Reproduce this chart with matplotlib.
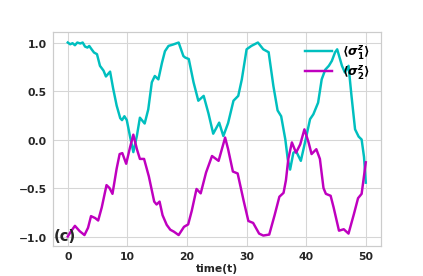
import numpy as np
import matplotlib
matplotlib.use('Agg')
import matplotlib.pyplot as plt

# values
t1 = [0.0, 0.4, 0.8, 1.2, 1.6, 2.1, 2.5, 2.9, 3.3, 3.6, 4.0, 4.4, 4.9, 5.4, 6.0, 6.4,
      7.1, 7.6, 8.2, 8.8, 9.1, 9.5, 9.9, 10.45, 11.0, 11.6, 12.1, 12.9, 13.5, 14.1,
      14.6, 15.2, 15.8, 16.3, 16.9, 17.7, 18.6, 19.4, 19.7, 20.3, 21.1, 21.9, 22.8,
      23.6, 24.4, 25.4, 26.1, 26.9, 27.8, 28.6, 29.2, 30.0, 30.8, 31.9, 32.8, 33.7,
      34.5, 35.2, 35.8, 36.5, 36.9, 37.3, 37.85, 38.3, 39.1, 39.8, 40.65, 41.2, 42.0,
      42.6, 43.2, 43.8, 44.3, 44.85, 45.2, 46.0, 46.5, 47.1, 47.6, 48.2, 48.8, 49.3,
      49.7, 50.0]
s1 = [1.0, 0.982, 0.993, 0.972, 1.0, 0.99, 1.0, 0.958, 0.948, 0.965, 0.93, 0.897, 0.88,
      0.76, 0.71, 0.65, 0.70, 0.53, 0.35, 0.22, 0.20, 0.24, 0.20, 0.03, -0.13, 0.04,
      0.225, 0.165, 0.31, 0.59, 0.655, 0.62, 0.79, 0.91, 0.965, 0.98, 1.0, 0.86, 0.845,
      0.83, 0.59, 0.40, 0.45, 0.27, 0.06, 0.174, 0.036, 0.17, 0.40, 0.45, 0.62, 0.93,
      0.965, 1.0, 0.93, 0.90, 0.55, 0.30, 0.24, 0.0, -0.2, -0.31, -0.136, -0.12, -0.22,
      -0.03, 0.21, 0.26, 0.38, 0.62, 0.72, 0.76, 0.81, 0.90, 0.93, 0.76, 0.69, 0.76,
      0.45, 0.105, 0.03, 0.0, -0.18, -0.445]

t2 = [0.0, 0.5, 1.2, 2.0, 2.8, 3.4, 3.9, 4.6, 5.1, 5.7, 6.5, 7.0, 7.5, 8.2, 8.7, 9.15,
      9.8, 10.45, 11.0, 11.6, 12.1, 12.8, 13.6, 14.5, 14.9, 15.4, 15.9, 16.6, 17.2,
      17.8, 18.6, 19.5, 20.2, 20.8, 21.6, 22.3, 23.2, 24.2, 25.3, 26.4, 26.9, 27.7,
      28.5, 29.5, 30.3, 31.1, 32.1, 32.8, 33.8, 34.7, 35.5, 36.2, 36.6, 37.0, 37.6,
      38.3, 39.0, 39.7, 40.4, 40.9, 41.7, 42.3, 42.9, 43.3, 44.1, 44.6, 45.5, 46.3,
      47.1, 48.0, 48.7, 49.3, 50.0]
s2 = [-1.0, -0.95, -0.89, -0.945, -0.985, -0.91, -0.79, -0.81, -0.835, -0.70, -0.47,
      -0.50, -0.56, -0.30, -0.15, -0.14, -0.25, -0.08, 0.05, -0.1, -0.2, -0.2, -0.38,
      -0.64, -0.67, -0.64, -0.78, -0.88, -0.93, -0.95, -0.985, -0.9, -0.875, -0.735,
      -0.51, -0.555, -0.34, -0.17, -0.22, 0.02, -0.1, -0.33, -0.35, -0.63, -0.84, -0.86,
      -0.97, -0.99, -0.98, -0.78, -0.59, -0.55, -0.42, -0.2, -0.03, -0.136, -0.05,
      0.105, -0.03, -0.15, -0.1, -0.2, -0.5, -0.56, -0.58, -0.70, -0.94, -0.925, -0.97,
      -0.77, -0.605, -0.56, -0.235]

plt.rcParams['mathtext.fontset'] = 'custom'
plt.rcParams['mathtext.rm'] = 'DejaVu Sans:bold'
plt.rcParams['mathtext.it'] = 'DejaVu Sans:italic:bold'
plt.rcParams['mathtext.bf'] = 'DejaVu Sans:bold'

fig, ax = plt.subplots(figsize=(6, 3.929), dpi=70.5)
ax.plot(t1, s1, color='c', lw=2.5, label=r'$\langle \sigma_1^z \rangle$')
ax.plot(t2, s2, color='m', lw=2.5, label=r'$\langle \sigma_2^z \rangle$')

ax.set_facecolor('white')
for sp in ax.spines.values():
    sp.set_color('#cccccc')
    sp.set_linewidth(1.25)
ax.grid(True, color='#d6d6d6', lw=1.1)
ax.set_axisbelow(True)
ax.tick_params(length=0, pad=6, labelsize=11, colors='#262626')
ax.set_xticks([0, 10, 20, 30, 40, 50])
ax.set_yticks([-1.0, -0.5, 0.0, 0.5, 1.0])
ax.set_xticklabels(['0', '10', '20', '30', '40', '50'], fontweight='bold')
ax.set_yticklabels(['\u22121.0', '\u22120.5', '0.0', '0.5', '1.0'], fontweight='bold')
ax.set_ylim(-1.093, 1.106)
ax.set_xlabel('time(t)', fontsize=11, fontweight='bold', color='#262626', labelpad=2)

ax.text(-2.3, -1.04, '(c)', fontsize=15, fontweight='bold', color='#262626')

ax.legend(loc='upper right', frameon=False, fontsize=12.5, handlelength=2.2,
          handletextpad=0.8, labelspacing=0.2, borderaxespad=0.5)

fig.savefig('out.png', dpi=70.5)
